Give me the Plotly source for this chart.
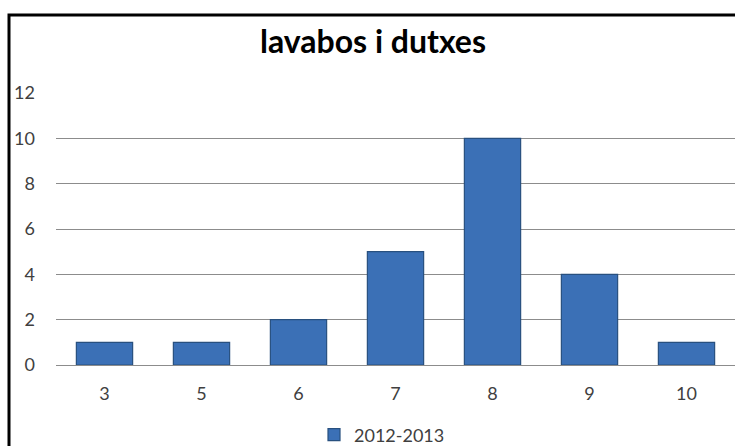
import plotly.graph_objects as go

categories = ["3", "5", "6", "7", "8", "9", "10"]
values = [1, 1, 2, 5, 10, 4, 1]
series_name = "2012-2013"
title_text = "lavabos i dutxes"
y_ticks = [0, 2, 4, 6, 8, 10, 12]

W, H = 735, 446
L, R, T, B = 56, 0, 93, 81
pw, ph = W - L - R, H - T - B

def px_x(x):
    return (x - L) / pw

def px_y(y):
    return (H - B - y) / ph

FONT = "Lato, 'Open Sans', sans-serif"

fig = go.Figure()
fig.add_trace(go.Bar(
    x=categories, y=values, name=series_name,
    width=0.58,
    marker=dict(color="#3B70B6", line=dict(color="#28507F", width=1.2)),
    showlegend=True,
))

fig.update_layout(
    width=W, height=H,
    margin=dict(l=L, r=R, t=T, b=B, autoexpand=False),
    paper_bgcolor="white", plot_bgcolor="white",
    font=dict(family=FONT, size=18, color="#404040"),
    title=dict(text="<b>" + title_text + "</b>", x=px_x(373), xref="paper",
               y=1 - 42 / H, yref="container", xanchor="center", yanchor="middle",
               font=dict(size=32, color="black", family=FONT)),
    legend=dict(orientation="h", x=px_x(382), xanchor="center", y=px_y(435),
                yanchor="middle", font=dict(size=18, color="#404040"),
                itemwidth=30),
    xaxis=dict(type="category", showgrid=False, showline=False, ticks="",
               ticklabelstandoff=16, range=[-0.5, 6.5], automargin=False),
    yaxis=dict(range=[0, 12], tickvals=y_ticks, showgrid=True, gridcolor="#8C8C8C",
               gridwidth=1, zeroline=True, zerolinecolor="#8C8C8C", zerolinewidth=1,
               showline=False, ticks="", ticklabelstandoff=20, automargin=False),
    shapes=[dict(type="rect", xref="paper", yref="paper",
                 x0=px_x(9), x1=px_x(760), y0=px_y(470), y1=px_y(15),
                 line=dict(color="black", width=3), fillcolor="rgba(0,0,0,0)",
                 layer="above")],
)

fig.write_html("out.html", config={"displayModeBar": False},
               post_script="document.body.style.margin='0';document.body.style.overflow='hidden';")
